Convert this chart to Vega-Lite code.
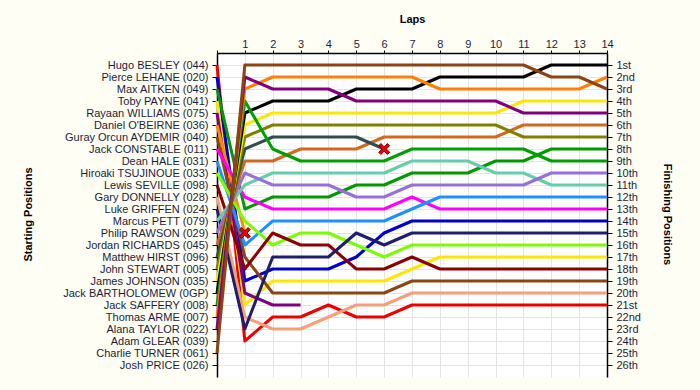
{
  "$schema": "https://vega.github.io/schema/vega-lite/v6.json",
  "width": 390,
  "height": 324,
  "autosize": "none",
  "padding": {"left": 217, "top": 53, "right": 93, "bottom": 13},
  "background": "#FFFEF4",
  "config": {
    "view": {"stroke": null, "fill": "white"},
    "font": "Liberation Sans",
    "axis": {
      "labelFont": "Liberation Sans",
      "labelFontSize": 11,
      "labelColor": "#1c1c3c",
      "labelOverlap": false,
      "labelFlush": false,
      "titleFont": "Liberation Sans",
      "titleFontSize": 11,
      "titleFontWeight": "bold",
      "titleColor": "#000000",
      "domainColor": "#000000",
      "domainWidth": 1.5,
      "tickColor": "#000000",
      "gridColor": "#e4e4e4",
      "gridWidth": 1
    }
  },
  "datasets": {
    "laps": [
      {"driver":"044","lap":0,"pos":1},{"driver":"044","lap":1,"pos":24},{"driver":"044","lap":2,"pos":22},{"driver":"044","lap":3,"pos":22},{"driver":"044","lap":4,"pos":21},{"driver":"044","lap":5,"pos":22},{"driver":"044","lap":6,"pos":22},{"driver":"044","lap":7,"pos":21},{"driver":"044","lap":8,"pos":21},{"driver":"044","lap":9,"pos":21},{"driver":"044","lap":10,"pos":21},{"driver":"044","lap":11,"pos":21},{"driver":"044","lap":12,"pos":21},{"driver":"044","lap":13,"pos":21},{"driver":"044","lap":14,"pos":21},
      {"driver":"020","lap":0,"pos":2},{"driver":"020","lap":1,"pos":19},{"driver":"020","lap":2,"pos":18},{"driver":"020","lap":3,"pos":18},{"driver":"020","lap":4,"pos":18},{"driver":"020","lap":5,"pos":17},{"driver":"020","lap":6,"pos":15},{"driver":"020","lap":7,"pos":14},{"driver":"020","lap":8,"pos":14},{"driver":"020","lap":9,"pos":14},{"driver":"020","lap":10,"pos":14},{"driver":"020","lap":11,"pos":14},{"driver":"020","lap":12,"pos":14},{"driver":"020","lap":13,"pos":14},{"driver":"020","lap":14,"pos":14},
      {"driver":"049","lap":0,"pos":3},{"driver":"049","lap":1,"pos":13},{"driver":"049","lap":2,"pos":12},{"driver":"049","lap":3,"pos":12},{"driver":"049","lap":4,"pos":12},{"driver":"049","lap":5,"pos":11},{"driver":"049","lap":6,"pos":11},{"driver":"049","lap":7,"pos":10},{"driver":"049","lap":8,"pos":10},{"driver":"049","lap":9,"pos":10},{"driver":"049","lap":10,"pos":9},{"driver":"049","lap":11,"pos":9},{"driver":"049","lap":12,"pos":8},{"driver":"049","lap":13,"pos":8},{"driver":"049","lap":14,"pos":8},
      {"driver":"041","lap":0,"pos":4},{"driver":"041","lap":1,"pos":21},{"driver":"041","lap":2,"pos":19},{"driver":"041","lap":3,"pos":19},{"driver":"041","lap":4,"pos":19},{"driver":"041","lap":5,"pos":19},{"driver":"041","lap":6,"pos":19},{"driver":"041","lap":7,"pos":18},{"driver":"041","lap":8,"pos":17},{"driver":"041","lap":9,"pos":17},{"driver":"041","lap":10,"pos":17},{"driver":"041","lap":11,"pos":17},{"driver":"041","lap":12,"pos":17},{"driver":"041","lap":13,"pos":17},{"driver":"041","lap":14,"pos":17},
      {"driver":"075","lap":0,"pos":5},{"driver":"075","lap":1,"pos":20},{"driver":"075","lap":2,"pos":21},{"driver":"075","lap":3,"pos":21},
      {"driver":"036","lap":0,"pos":6},{"driver":"036","lap":1,"pos":15},
      {"driver":"040","lap":0,"pos":7},{"driver":"040","lap":1,"pos":17},{"driver":"040","lap":2,"pos":20},{"driver":"040","lap":3,"pos":20},{"driver":"040","lap":4,"pos":20},{"driver":"040","lap":5,"pos":20},{"driver":"040","lap":6,"pos":20},{"driver":"040","lap":7,"pos":19},{"driver":"040","lap":8,"pos":19},{"driver":"040","lap":9,"pos":19},{"driver":"040","lap":10,"pos":19},{"driver":"040","lap":11,"pos":19},{"driver":"040","lap":12,"pos":19},{"driver":"040","lap":13,"pos":19},{"driver":"040","lap":14,"pos":19},
      {"driver":"011","lap":0,"pos":8},{"driver":"011","lap":1,"pos":12},{"driver":"011","lap":2,"pos":13},{"driver":"011","lap":3,"pos":13},{"driver":"011","lap":4,"pos":13},{"driver":"011","lap":5,"pos":13},{"driver":"011","lap":6,"pos":13},{"driver":"011","lap":7,"pos":12},{"driver":"011","lap":8,"pos":13},{"driver":"011","lap":9,"pos":13},{"driver":"011","lap":10,"pos":13},{"driver":"011","lap":11,"pos":13},{"driver":"011","lap":12,"pos":13},{"driver":"011","lap":13,"pos":13},{"driver":"011","lap":14,"pos":13},
      {"driver":"031","lap":0,"pos":9},{"driver":"031","lap":1,"pos":16},{"driver":"031","lap":2,"pos":14},{"driver":"031","lap":3,"pos":14},{"driver":"031","lap":4,"pos":14},{"driver":"031","lap":5,"pos":14},{"driver":"031","lap":6,"pos":14},{"driver":"031","lap":7,"pos":13},{"driver":"031","lap":8,"pos":12},{"driver":"031","lap":9,"pos":12},{"driver":"031","lap":10,"pos":12},{"driver":"031","lap":11,"pos":12},{"driver":"031","lap":12,"pos":12},{"driver":"031","lap":13,"pos":12},{"driver":"031","lap":14,"pos":12},
      {"driver":"033","lap":0,"pos":10},{"driver":"033","lap":1,"pos":14},{"driver":"033","lap":2,"pos":16},{"driver":"033","lap":3,"pos":15},{"driver":"033","lap":4,"pos":15},{"driver":"033","lap":5,"pos":16},{"driver":"033","lap":6,"pos":17},{"driver":"033","lap":7,"pos":16},{"driver":"033","lap":8,"pos":16},{"driver":"033","lap":9,"pos":16},{"driver":"033","lap":10,"pos":16},{"driver":"033","lap":11,"pos":16},{"driver":"033","lap":12,"pos":16},{"driver":"033","lap":13,"pos":16},{"driver":"033","lap":14,"pos":16},
      {"driver":"098","lap":0,"pos":11},{"driver":"098","lap":1,"pos":18},{"driver":"098","lap":2,"pos":15},{"driver":"098","lap":3,"pos":16},{"driver":"098","lap":4,"pos":16},{"driver":"098","lap":5,"pos":18},{"driver":"098","lap":6,"pos":18},{"driver":"098","lap":7,"pos":17},{"driver":"098","lap":8,"pos":18},{"driver":"098","lap":9,"pos":18},{"driver":"098","lap":10,"pos":18},{"driver":"098","lap":11,"pos":18},{"driver":"098","lap":12,"pos":18},{"driver":"098","lap":13,"pos":18},{"driver":"098","lap":14,"pos":18},
      {"driver":"028","lap":0,"pos":12},{"driver":"028","lap":1,"pos":22},{"driver":"028","lap":2,"pos":23},{"driver":"028","lap":3,"pos":23},{"driver":"028","lap":4,"pos":22},{"driver":"028","lap":5,"pos":21},{"driver":"028","lap":6,"pos":21},{"driver":"028","lap":7,"pos":20},{"driver":"028","lap":8,"pos":20},{"driver":"028","lap":9,"pos":20},{"driver":"028","lap":10,"pos":20},{"driver":"028","lap":11,"pos":20},{"driver":"028","lap":12,"pos":20},{"driver":"028","lap":13,"pos":20},{"driver":"028","lap":14,"pos":20},
      {"driver":"024","lap":0,"pos":13},{"driver":"024","lap":1,"pos":23},{"driver":"024","lap":2,"pos":17},{"driver":"024","lap":3,"pos":17},{"driver":"024","lap":4,"pos":17},{"driver":"024","lap":5,"pos":15},{"driver":"024","lap":6,"pos":16},{"driver":"024","lap":7,"pos":15},{"driver":"024","lap":8,"pos":15},{"driver":"024","lap":9,"pos":15},{"driver":"024","lap":10,"pos":15},{"driver":"024","lap":11,"pos":15},{"driver":"024","lap":12,"pos":15},{"driver":"024","lap":13,"pos":15},{"driver":"024","lap":14,"pos":15},
      {"driver":"079","lap":0,"pos":14},{"driver":"079","lap":1,"pos":11},{"driver":"079","lap":2,"pos":10},{"driver":"079","lap":3,"pos":10},{"driver":"079","lap":4,"pos":10},{"driver":"079","lap":5,"pos":10},{"driver":"079","lap":6,"pos":10},{"driver":"079","lap":7,"pos":9},{"driver":"079","lap":8,"pos":9},{"driver":"079","lap":9,"pos":9},{"driver":"079","lap":10,"pos":10},{"driver":"079","lap":11,"pos":10},{"driver":"079","lap":12,"pos":11},{"driver":"079","lap":13,"pos":11},{"driver":"079","lap":14,"pos":11},
      {"driver":"029","lap":0,"pos":15},{"driver":"029","lap":1,"pos":10},{"driver":"029","lap":2,"pos":11},{"driver":"029","lap":3,"pos":11},{"driver":"029","lap":4,"pos":11},{"driver":"029","lap":5,"pos":12},{"driver":"029","lap":6,"pos":12},{"driver":"029","lap":7,"pos":11},{"driver":"029","lap":8,"pos":11},{"driver":"029","lap":9,"pos":11},{"driver":"029","lap":10,"pos":11},{"driver":"029","lap":11,"pos":11},{"driver":"029","lap":12,"pos":10},{"driver":"029","lap":13,"pos":10},{"driver":"029","lap":14,"pos":10},
      {"driver":"045","lap":0,"pos":16},{"driver":"045","lap":1,"pos":9},{"driver":"045","lap":2,"pos":9},{"driver":"045","lap":3,"pos":8},{"driver":"045","lap":4,"pos":8},{"driver":"045","lap":5,"pos":8},{"driver":"045","lap":6,"pos":7},{"driver":"045","lap":7,"pos":7},{"driver":"045","lap":8,"pos":7},{"driver":"045","lap":9,"pos":7},{"driver":"045","lap":10,"pos":7},{"driver":"045","lap":11,"pos":6},{"driver":"045","lap":12,"pos":6},{"driver":"045","lap":13,"pos":6},{"driver":"045","lap":14,"pos":6},
      {"driver":"096","lap":0,"pos":17},{"driver":"096","lap":1,"pos":8},{"driver":"096","lap":2,"pos":7},{"driver":"096","lap":3,"pos":7},{"driver":"096","lap":4,"pos":7},{"driver":"096","lap":5,"pos":7},{"driver":"096","lap":6,"pos":8},
      {"driver":"005","lap":0,"pos":18},{"driver":"005","lap":1,"pos":7},{"driver":"005","lap":2,"pos":6},{"driver":"005","lap":3,"pos":6},{"driver":"005","lap":4,"pos":6},{"driver":"005","lap":5,"pos":6},{"driver":"005","lap":6,"pos":6},{"driver":"005","lap":7,"pos":6},{"driver":"005","lap":8,"pos":6},{"driver":"005","lap":9,"pos":6},{"driver":"005","lap":10,"pos":6},{"driver":"005","lap":11,"pos":7},{"driver":"005","lap":12,"pos":7},{"driver":"005","lap":13,"pos":7},{"driver":"005","lap":14,"pos":7},
      {"driver":"035","lap":0,"pos":19},{"driver":"035","lap":1,"pos":6},{"driver":"035","lap":2,"pos":5},{"driver":"035","lap":3,"pos":5},{"driver":"035","lap":4,"pos":5},{"driver":"035","lap":5,"pos":5},{"driver":"035","lap":6,"pos":5},{"driver":"035","lap":7,"pos":5},{"driver":"035","lap":8,"pos":5},{"driver":"035","lap":9,"pos":5},{"driver":"035","lap":10,"pos":5},{"driver":"035","lap":11,"pos":4},{"driver":"035","lap":12,"pos":4},{"driver":"035","lap":13,"pos":4},{"driver":"035","lap":14,"pos":4},
      {"driver":"0GP","lap":0,"pos":20},{"driver":"0GP","lap":1,"pos":5},{"driver":"0GP","lap":2,"pos":4},{"driver":"0GP","lap":3,"pos":4},{"driver":"0GP","lap":4,"pos":4},{"driver":"0GP","lap":5,"pos":3},{"driver":"0GP","lap":6,"pos":3},{"driver":"0GP","lap":7,"pos":3},{"driver":"0GP","lap":8,"pos":2},{"driver":"0GP","lap":9,"pos":2},{"driver":"0GP","lap":10,"pos":2},{"driver":"0GP","lap":11,"pos":2},{"driver":"0GP","lap":12,"pos":1},{"driver":"0GP","lap":13,"pos":1},{"driver":"0GP","lap":14,"pos":1},
      {"driver":"008","lap":0,"pos":21},{"driver":"008","lap":1,"pos":4},{"driver":"008","lap":2,"pos":8},{"driver":"008","lap":3,"pos":9},{"driver":"008","lap":4,"pos":9},{"driver":"008","lap":5,"pos":9},{"driver":"008","lap":6,"pos":9},{"driver":"008","lap":7,"pos":8},{"driver":"008","lap":8,"pos":8},{"driver":"008","lap":9,"pos":8},{"driver":"008","lap":10,"pos":8},{"driver":"008","lap":11,"pos":8},{"driver":"008","lap":12,"pos":9},{"driver":"008","lap":13,"pos":9},{"driver":"008","lap":14,"pos":9},
      {"driver":"007","lap":0,"pos":22},{"driver":"007","lap":1,"pos":3},{"driver":"007","lap":2,"pos":2},{"driver":"007","lap":3,"pos":2},{"driver":"007","lap":4,"pos":2},{"driver":"007","lap":5,"pos":2},{"driver":"007","lap":6,"pos":2},{"driver":"007","lap":7,"pos":2},{"driver":"007","lap":8,"pos":3},{"driver":"007","lap":9,"pos":3},{"driver":"007","lap":10,"pos":3},{"driver":"007","lap":11,"pos":3},{"driver":"007","lap":12,"pos":3},{"driver":"007","lap":13,"pos":3},{"driver":"007","lap":14,"pos":2},
      {"driver":"022","lap":0,"pos":23},{"driver":"022","lap":1,"pos":2},{"driver":"022","lap":2,"pos":3},{"driver":"022","lap":3,"pos":3},{"driver":"022","lap":4,"pos":3},{"driver":"022","lap":5,"pos":4},{"driver":"022","lap":6,"pos":4},{"driver":"022","lap":7,"pos":4},{"driver":"022","lap":8,"pos":4},{"driver":"022","lap":9,"pos":4},{"driver":"022","lap":10,"pos":4},{"driver":"022","lap":11,"pos":5},{"driver":"022","lap":12,"pos":5},{"driver":"022","lap":13,"pos":5},{"driver":"022","lap":14,"pos":5},
      {"driver":"061","lap":0,"pos":25},{"driver":"061","lap":1,"pos":1},{"driver":"061","lap":2,"pos":1},{"driver":"061","lap":3,"pos":1},{"driver":"061","lap":4,"pos":1},{"driver":"061","lap":5,"pos":1},{"driver":"061","lap":6,"pos":1},{"driver":"061","lap":7,"pos":1},{"driver":"061","lap":8,"pos":1},{"driver":"061","lap":9,"pos":1},{"driver":"061","lap":10,"pos":1},{"driver":"061","lap":11,"pos":1},{"driver":"061","lap":12,"pos":2},{"driver":"061","lap":13,"pos":2},{"driver":"061","lap":14,"pos":3}
    ],
    "retired": [
      {"driver":"036","lap":1,"pos":15},
      {"driver":"096","lap":6,"pos":8}
    ]
  },
  "layer": [
    {
      "data": {"name": "laps"},
      "mark": {"type": "line", "strokeWidth": 3, "strokeJoin": "round", "strokeCap": "butt"},
      "encoding": {
        "x": {
          "field": "lap", "type": "quantitative",
          "scale": {"domain": [0, 14], "nice": false, "zero": false},
          "axis": {
            "orient": "top", "title": "Laps",
            "values": [0,1,2,3,4,5,6,7,8,9,10,11,12,13,14],
            "labelExpr": "datum.value == 0 ? '' : '' + datum.value",
            "labelOverlap": false, "labelFlush": false,
            "tickSize": 3, "labelPadding": 1, "grid": true,
            "titleX": 195, "titleY": -34, "titleBaseline": "middle", "titleAnchor": null
          }
        },
        "y": {
          "field": "pos", "type": "quantitative",
          "scale": {"domain": [0, 27], "reverse": true, "nice": false, "zero": false},
          "axis": {
            "orient": "left", "title": "Starting Positions",
            "values": [1,2,3,4,5,6,7,8,9,10,11,12,13,14,15,16,17,18,19,20,21,22,23,24,25,26],
            "labelExpr": "[\"\", \"Hugo BESLEY (044)\", \"Pierce LEHANE (020)\", \"Max AITKEN (049)\", \"Toby PAYNE (041)\", \"Rayaan WILLIAMS (075)\", \"Daniel O'BEIRNE (036)\", \"Guray Orcun AYDEMIR (040)\", \"Jack CONSTABLE (011)\", \"Dean HALE (031)\", \"Hiroaki TSUJINOUE (033)\", \"Lewis SEVILLE (098)\", \"Gary DONNELLY (028)\", \"Luke GRIFFEN (024)\", \"Marcus PETT (079)\", \"Philip RAWSON (029)\", \"Jordan RICHARDS (045)\", \"Matthew HIRST (096)\", \"John STEWART (005)\", \"James JOHNSON (035)\", \"Jack BARTHOLOMEW (0GP)\", \"Jack SAFFERY (008)\", \"Thomas ARME (007)\", \"Alana TAYLOR (022)\", \"Adam GLEAR (039)\", \"Charlie TURNER (061)\", \"Josh PRICE (026)\"][datum.value]",
            "tickSize": 5, "labelPadding": 4, "grid": true, "labelOverlap": false, "labelFlush": false,
            "titleX": -189, "titleY": 161, "titleAngle": 270, "titleBaseline": "middle", "titleAnchor": null
          }
        },
        "color": {
          "field": "driver", "type": "nominal", "legend": null,
          "scale": {
            "domain": ["044","020","049","041","075","036","040","011","031","033","098","028","024","079","029","045","096","005","035","0GP","008","007","022","061"],
            "range": ["#ee0000","#0000cd","#009a00","#ffe600","#800080","#ff8c00","#8b4513","#ff00ff","#1e90ff","#7cfc00","#8b0000","#f4a07a","#1e1e6e","#66cdaa","#9370db","#d2691e","#2f4f4f","#808000","#ffe600","#000000","#00a000","#ff8000","#800080","#8b4513"]
          }
        },
        "detail": {"field": "driver"},
        "order": {"field": "lap", "type": "quantitative"}
      }
    },
    {
      "data": {"name": "retired"},
      "mark": {
        "type": "point", "filled": true,
        "shape": "M-1,-0.6L-0.6,-1L0,-0.4L0.6,-1L1,-0.6L0.4,0L1,0.6L0.6,1L0,0.4L-0.6,1L-1,0.6L-0.4,0Z",
        "size": 120, "fill": "#ee0000", "stroke": "#700000", "strokeWidth": 1, "opacity": 1
      },
      "encoding": {
        "x": {
          "field": "lap", "type": "quantitative",
          "scale": {"domain": [0, 14], "nice": false, "zero": false},
          "axis": {
            "orient": "top", "title": "Laps",
            "values": [0,1,2,3,4,5,6,7,8,9,10,11,12,13,14],
            "labelExpr": "datum.value == 0 ? '' : '' + datum.value",
            "labelOverlap": false, "labelFlush": false,
            "tickSize": 3, "labelPadding": 1, "grid": true,
            "titleX": 195, "titleY": -34, "titleBaseline": "middle", "titleAnchor": null
          }
        },
        "y": {
          "field": "pos", "type": "quantitative",
          "scale": {"domain": [0, 27], "reverse": true, "nice": false, "zero": false},
          "axis": {
            "orient": "right", "title": "Finishing Positions",
            "values": [1,2,3,4,5,6,7,8,9,10,11,12,13,14,15,16,17,18,19,20,21,22,23,24,25,26],
            "labelExpr": "datum.value + ((datum.value % 10 == 1 && datum.value != 11) ? 'st' : (datum.value % 10 == 2 && datum.value != 12) ? 'nd' : (datum.value % 10 == 3 && datum.value != 13) ? 'rd' : 'th')",
            "tickSize": 5, "labelPadding": 4, "grid": false, "labelOverlap": false, "labelFlush": false,
            "titleX": 59, "titleY": 161, "titleAngle": 90, "titleBaseline": "middle", "titleAnchor": null
          }
        }
      }
    }
  ],
  "resolve": {"axis": {"y": "independent"}}
}
